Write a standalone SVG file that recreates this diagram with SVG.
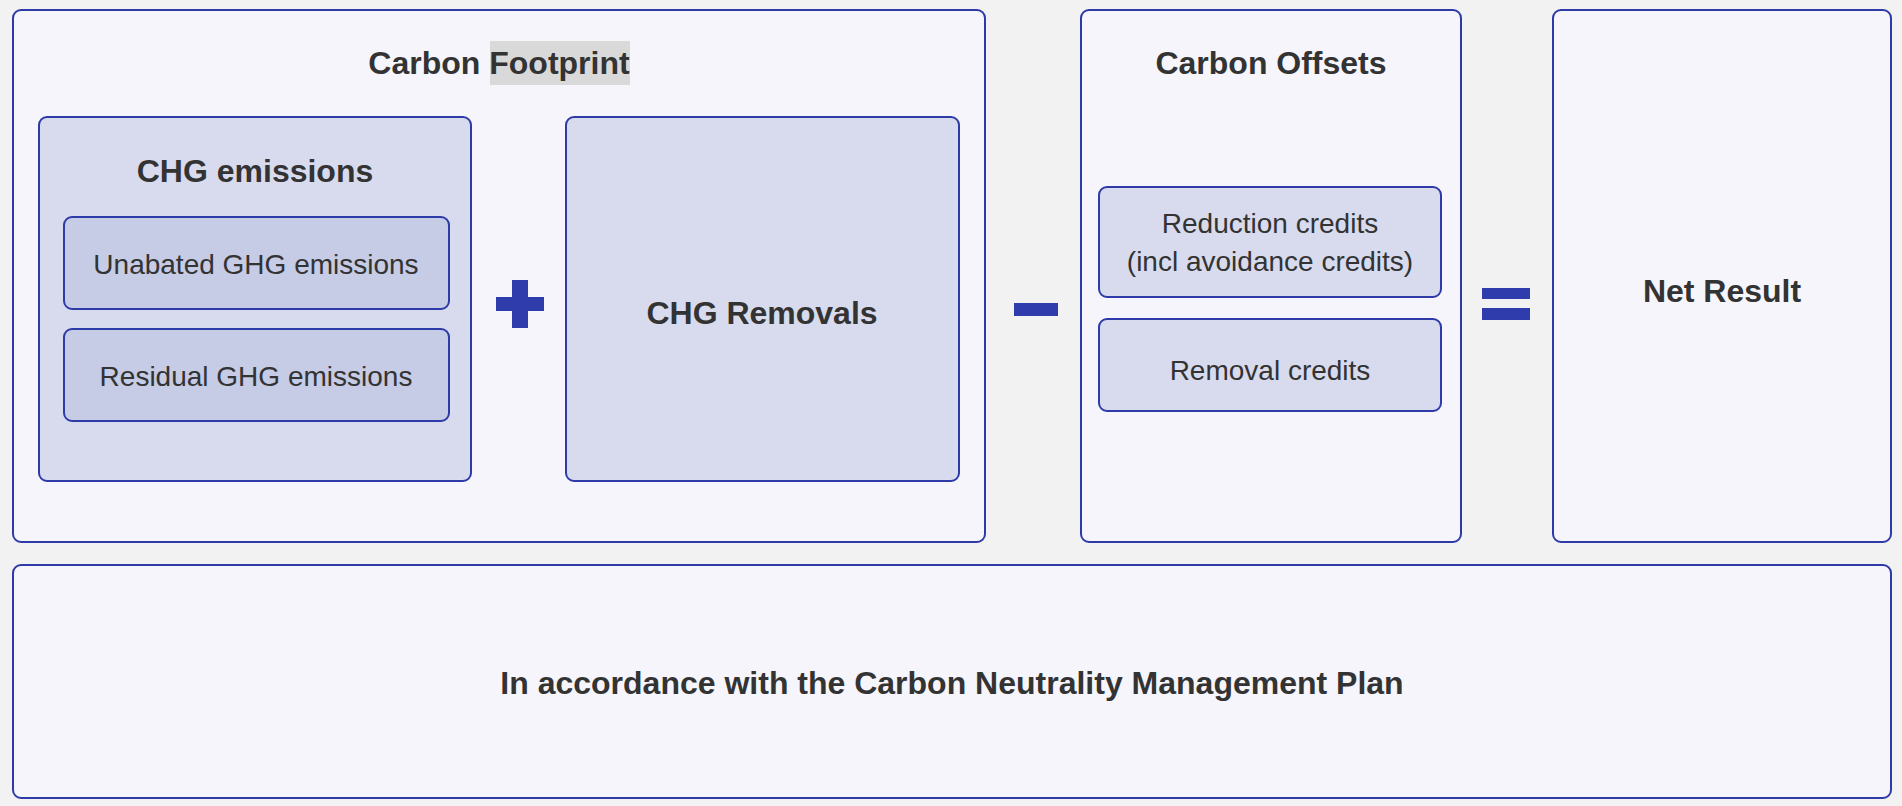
<svg xmlns="http://www.w3.org/2000/svg" width="1902" height="806" viewBox="0 0 1902 806">
<style>
.bg{fill:#f2f2f2}
.outer{fill:#f5f5fb;stroke:#2e3aa8;stroke-width:2}
.mid{fill:#d8dbee;stroke:#2e3aa8;stroke-width:2}
.inner{fill:#c6cbe6;stroke:#2e3aa8;stroke-width:2}
.op{fill:#2f3cab}
.h{font-family:"Liberation Sans",Arial,sans-serif;font-weight:bold;font-size:32px;fill:#333;text-anchor:middle}
.t{font-family:"Liberation Sans",Arial,sans-serif;font-size:28px;fill:#333;text-anchor:middle}
</style>
<rect class="bg" x="0" y="0" width="1902" height="806"/>
<g id="carbon-footprint">
<rect class="outer" x="13" y="10" width="972" height="532" rx="8"/>
<rect x="490" y="41" width="140" height="44" fill="#d9d9d9"/>
<text class="h" x="499" y="74">Carbon Footprint</text>
</g>
<g id="chg-emissions">
<rect class="mid" x="39" y="117" width="432" height="364" rx="8"/>
<text class="h" x="255" y="182">CHG emissions</text>
</g>
<g id="unabated">
<rect class="inner" x="64" y="217" width="385" height="92" rx="8"/>
<text class="t" x="256" y="274">Unabated GHG emissions</text>
</g>
<g id="residual">
<rect class="inner" x="64" y="329" width="385" height="92" rx="8"/>
<text class="t" x="256" y="386">Residual GHG emissions</text>
</g>
<g id="plus">
<rect class="op" x="496" y="297" width="48" height="14"/>
<rect class="op" x="512" y="280" width="16" height="48"/>
</g>
<g id="chg-removals">
<rect class="mid" x="566" y="117" width="393" height="364" rx="8"/>
<text class="h" x="762" y="324">CHG Removals</text>
</g>
<g id="minus">
<rect class="op" x="1014" y="303" width="44" height="13"/>
</g>
<g id="carbon-offsets">
<rect class="outer" x="1081" y="10" width="380" height="532" rx="8"/>
<text class="h" x="1271" y="74">Carbon Offsets</text>
</g>
<g id="reduction-credits">
<rect class="mid" x="1099" y="187" width="342" height="110" rx="8"/>
<text class="t" x="1270" y="233">Reduction credits</text>
<text class="t" x="1270" y="271">(incl avoidance credits)</text>
</g>
<g id="removal-credits">
<rect class="mid" x="1099" y="319" width="342" height="92" rx="8"/>
<text class="t" x="1270" y="380">Removal credits</text>
</g>
<g id="equals">
<rect class="op" x="1482" y="288" width="48" height="11"/>
<rect class="op" x="1482" y="308" width="48" height="12"/>
</g>
<g id="net-result">
<rect class="outer" x="1553" y="10" width="338" height="532" rx="8"/>
<text class="h" x="1722" y="302">Net Result</text>
</g>
<g id="management-plan">
<rect class="outer" x="13" y="565" width="1878" height="233" rx="8"/>
<text class="h" x="952" y="694">In accordance with the Carbon Neutrality Management Plan</text>
</g>
<g id="connectors"></g>
</svg>
